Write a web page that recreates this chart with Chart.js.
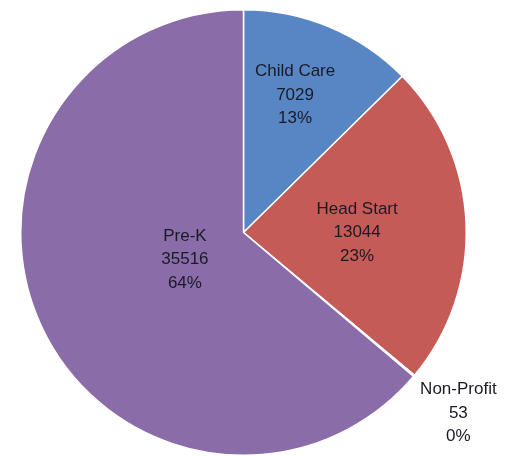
<!DOCTYPE html>
<html lang="en">
<head>
    <meta charset="UTF-8">
    <title>Enrollment by Program</title>
    <style>
        body {
            margin: 0;
            background-color: #ffffff;
        }
        .chart-box {
            width: 515px;
            height: 456px;
        }
    </style>
    <script src="https://cdn.jsdelivr.net/npm/chart.js"></script>
</head>
<body>
    <div class="chart-box">
        <canvas id="pieChart"></canvas>
    </div>

    <script>
        var programs = ['Child Care', 'Head Start', 'Non-Profit', 'Pre-K'];
        var counts = [7029, 13044, 53, 35516];
        var percents = ['13%', '23%', '0%', '64%'];

        var sliceColors = ['#5886c4', '#c55b56', '#9bbb59', '#896ca8'];
        // label placement: share of the radius, and a small turn (degrees) off the slice middle
        var labelRadius = [0.66, 0.51, 1.26, 0.29];
        var labelTurn = [-2.2, 2.3, 0, 0];

        var labelPlugin = {
            id: 'sliceLabels',
            afterDatasetsDraw: function(chart) {
                var ctx = chart.ctx;
                var arcs = chart.getDatasetMeta(0).data;
                ctx.save();
                ctx.font = '17px "Liberation Sans", Arial, sans-serif';
                ctx.fillStyle = '#1a1a26';
                ctx.textAlign = 'center';
                ctx.textBaseline = 'middle';
                for (var i = 0; i < arcs.length; i++) {
                    var a = arcs[i];
                    var mid = (a.startAngle + a.endAngle) / 2 + labelTurn[i] * Math.PI / 180;
                    var r = a.outerRadius * labelRadius[i];
                    var cx = a.x + Math.cos(mid) * r;
                    var cy = a.y + Math.sin(mid) * r;
                    var lines = [programs[i], String(counts[i]), percents[i]];
                    for (var j = 0; j < lines.length; j++) {
                        ctx.fillText(lines[j], cx, cy + (j - 1) * 23.5);
                    }
                }
                ctx.restore();
            }
        };

        var pieChart = new Chart(document.getElementById('pieChart'), {
            type: 'pie',
            data: {
                labels: programs,
                datasets: [
                    {
                        data: counts,
                        backgroundColor: sliceColors,
                        borderColor: '#ffffff',
                        borderWidth: 1.5
                    }
                ]
            },
            options: {
                responsive: true,
                maintainAspectRatio: false,
                animation: false,
                layout: {
                    padding: { top: 9, bottom: 0, left: 0, right: 28 }
                },
                plugins: {
                    legend: { display: false },
                    tooltip: { enabled: false }
                }
            },
            plugins: [labelPlugin]
        });
    </script>
</body>
</html>
